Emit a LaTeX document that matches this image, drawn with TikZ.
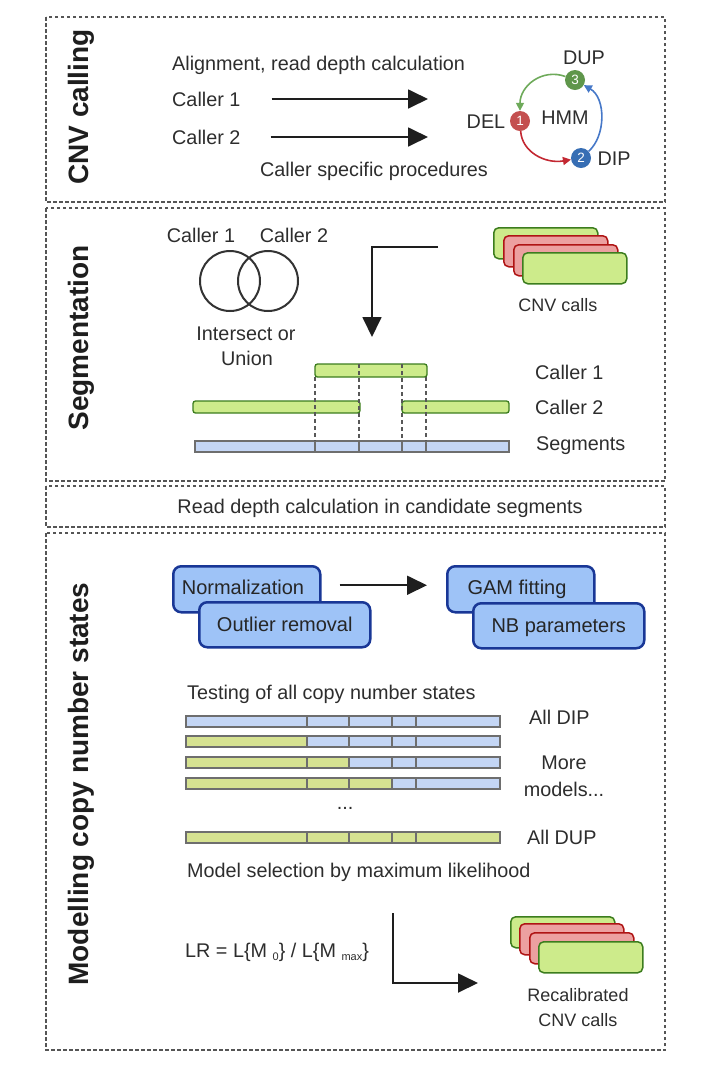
\documentclass[tikz,border=0pt]{standalone}
\usepackage{fontspec}
\setmainfont{Liberation Sans}
\usetikzlibrary{arrows.meta}
\definecolor{txtc}{RGB}{45,45,45}
\definecolor{ttlc}{RGB}{30,30,30}
\definecolor{framec}{RGB}{85,85,85}
\definecolor{arrc}{RGB}{30,30,30}
\definecolor{gfill}{RGB}{205,235,139}
\definecolor{gdraw}{RGB}{60,125,30}
\definecolor{rfill}{RGB}{236,160,160}
\definecolor{rdraw}{RGB}{175,20,20}
\definecolor{bfill}{RGB}{158,195,247}
\definecolor{bdraw}{RGB}{25,55,150}
\definecolor{segb}{RGB}{196,214,245}
\definecolor{segd}{RGB}{110,110,110}
\definecolor{mgreen}{RGB}{214,226,145}
\definecolor{cone}{RGB}{196,80,80}
\definecolor{ctwo}{RGB}{55,110,180}
\definecolor{cthree}{RGB}{95,150,75}
\definecolor{garr}{RGB}{110,170,90}
\definecolor{rarr}{RGB}{195,40,50}
\definecolor{barr}{RGB}{70,120,200}
\begin{document}
\begin{tikzpicture}[x=1pt,y=-1pt,
  frame/.style={draw=framec, line width=1.4pt, dash pattern=on 3.5pt off 2.5pt},
  lbl/.style={inner sep=0pt, text=txtc, font=\fontsize{19.8}{23}\selectfont, text height=14.2pt, text depth=0pt},
  lbls/.style={inner sep=0pt, text=txtc, font=\fontsize{18}{21}\selectfont, text height=13pt, text depth=0pt},
  ttl/.style={inner sep=0pt, text=ttlc, font=\fontsize{28}{32}\selectfont\bfseries, text height=20pt, text depth=0pt, rotate=90},
  blk/.style={-{Triangle[length=20pt,width=19pt]}, line width=1.8pt, draw=arrc},
  hm/.style={-{Triangle[length=8pt,width=8pt]}, line width=1.6pt},
  st/.style={circle, minimum size=20pt, inner sep=0pt, text=white, font=\fontsize{13.5}{15}\selectfont},
  card/.style={rounded corners=5pt, line width=1.5pt, minimum width=104pt, minimum height=31pt, anchor=north west, inner sep=0pt},
  cardg/.style={card, draw=gdraw, fill=gfill},
  cardr/.style={card, draw=rdraw, fill=rfill},
  gbar/.style={draw=gdraw, fill=gfill, rounded corners=2.5pt, line width=1.3pt},
  seg/.style={draw=segd, line width=1.3pt},
  guide/.style={draw=segd!80!black, line width=1.1pt, dash pattern=on 4pt off 3pt},
  bbox/.style={draw=bdraw, fill=bfill, rounded corners=8pt, line width=2.5pt, inner sep=0pt, text=black!85, font=\fontsize{20}{24}\selectfont},
  venn/.style={circle, draw=black!80, line width=2pt, minimum size=60pt, inner sep=0pt}
]
\useasboundingbox (0,0) rectangle (714,1072);

% frames
\draw[frame] (46,17) rectangle (665,202);
\draw[frame] (46,208) rectangle (665,481);
\draw[frame] (46,486) rectangle (665,527);
\draw[frame] (46,533) rectangle (665,1050);

% titles
\node[ttl] (t1) at (78,107) {CNV calling};
\node[ttl] (t2) at (78,338) {Segmentation};
\node[ttl] (t3) at (78,784) {Modelling copy number states};

% ---- CNV calling
\node[lbl, anchor=west] (align) at (172,63) {Alignment, read depth calculation};
\node[lbl, anchor=west] (cl1) at (172,99) {Caller 1};
\node[lbl, anchor=west] (cl2) at (172,137) {Caller 2};
\coordinate (a1e) at (428,99);
\coordinate (a2e) at (428,137);
\draw[blk, shorten <=31pt] (cl1.east) -- (a1e);
\draw[blk, shorten <=30pt] (cl2.east) -- (a2e);
\node[lbl] (csp) at (374,169) {Caller specific procedures};

\node[st, fill=cone] (c1) at (520,121) {1};
\node[st, fill=ctwo] (c2) at (581,158) {2};
\node[st, fill=cthree] (c3) at (575,80) {3};
\node[lbl] (del) at (486,121) {DEL};
\node[lbl] (dip) at (614,158) {DIP};
\node[lbl] (dup) at (584,57) {DUP};
\node[lbl] (hmm) at (565,117) {HMM};
\draw[hm, draw=garr] (c3) .. controls (542,68) and (520,86) .. (c1);
\draw[hm, draw=rarr] (c1) .. controls (522,152) and (545,164) .. (c2);
\draw[hm, draw=barr] (c2) .. controls (606,136) and (606,98) .. (c3);

% ---- Segmentation
\node[lbl] (vc1) at (201,235) {Caller 1};
\node[lbl] (vc2) at (294,235) {Caller 2};
\node[venn] (v1) at (230,281) {};
\node[venn] (v2) at (268,281) {};
\node[lbl] (ior) at (246,333) {Intersect or};
\node[lbl] (uni) at (247,358) {Union};

\node[cardg] (s1) at (493,227) {};
\node[cardr] (s2) at (503,235) {};
\node[cardr] (s3) at (513,244) {};
\node[cardg] (s4) at (522,252) {};
\node[lbls] (cnvc) at (558,305) {CNV calls};

\coordinate (e1s) at (438,247);
\coordinate (e1e) at (372,337);
\draw[blk] (e1s) -| (e1e);

\draw[gbar] (315,364) rectangle (427,377);
\draw[gbar] (193,401) rectangle (360,413);
\draw[gbar] (402,401) rectangle (509,413);
\draw[seg, fill=segb] (195,441) rectangle (509,452);
\foreach \xx in {315,359,402,426} \draw[seg] (\xx,441) -- (\xx,452);
\draw[guide] (315,377) -- (315,441);
\draw[guide] (426,377) -- (426,441);
\draw[guide] (359,364) -- (359,441);
\draw[guide] (402,364) -- (402,441);
\node[lbl, anchor=west] (sc1) at (535,372) {Caller 1};
\node[lbl, anchor=west] (sc2) at (535,407) {Caller 2};
\node[lbl, anchor=west] (ssg) at (536,443) {Segments};

% ---- Read depth
\node[lbl] (rd) at (380,506) {Read depth calculation in candidate segments};

% ---- Modelling
\node[bbox, minimum width=147pt, minimum height=46pt, anchor=north west] (norm) at (172,565) {};
\node[inner sep=0pt, text=black!85, font=\fontsize{20}{24}\selectfont, text height=14.3pt, text depth=0pt] (normt) at (243,587) {Normalization};
\node[bbox, minimum width=171pt, minimum height=45pt, anchor=north west, text height=14.3pt, text depth=0pt] (outl) at (198,601) {Outlier removal};
\node[bbox, minimum width=147pt, minimum height=46pt, anchor=north west] (gam) at (446,565) {};
\node[inner sep=0pt, text=black!85, font=\fontsize{20}{24}\selectfont, text height=14.3pt, text depth=0pt] (gamt) at (517,587) {GAM fitting};
\node[bbox, minimum width=171pt, minimum height=45pt, anchor=north west, text height=14.3pt, text depth=0pt] (nb) at (472,602) {NB parameters};
\draw[blk, shorten <=18pt, shorten >=19pt] ([yshift=4pt]norm.east) -- ([yshift=4pt]gam.west);

\node[lbl, anchor=west] (test) at (187,692) {Testing of all copy number states};
\foreach \yt/\ng in {716/0,736/1,757/2,778/3,832/5} {
  \foreach \xa/\xb [count=\i] in {186/307,307/349,349/392,392/416,416/500} {
    \ifnum\i>\ng \def\fc{segb}\else\def\fc{mgreen}\fi
    \draw[seg, fill=\fc] (\xa,\yt) rectangle (\xb,\yt+11);
  }
}
\node[lbl, anchor=west] (adip) at (529,717) {All DIP};
\node[lbl] (more) at (564,762) {More};
\node[lbl] (mods) at (564,789) {models...};
\node[lbl] (dots) at (345,802) {...};
\node[lbl, anchor=west] (adup) at (527,837) {All DUP};
\node[lbl, anchor=west] (msel) at (187,870) {Model selection by maximum likelihood};
\node[lbl, anchor=west] (lr) at (185,950) {LR = L\{M {\fontsize{11}{12}\selectfont\raisebox{-3pt}{0}}\} / L\{M {\fontsize{11}{12}\selectfont\raisebox{-3pt}{max}}\}};

\coordinate (e2s) at (393,913);
\coordinate (e2e) at (478,983);
\draw[blk] (e2s) |- (e2e);

\node[cardg] (r1) at (510,916) {};
\node[cardr] (r2) at (519,923) {};
\node[cardr] (r3) at (529,932) {};
\node[cardg] (r4) at (538,941) {};
\node[lbls] (recal) at (578,995) {Recalibrated};
\node[lbls] (cnvc2) at (578,1020) {CNV calls};
\end{tikzpicture}
\end{document}
